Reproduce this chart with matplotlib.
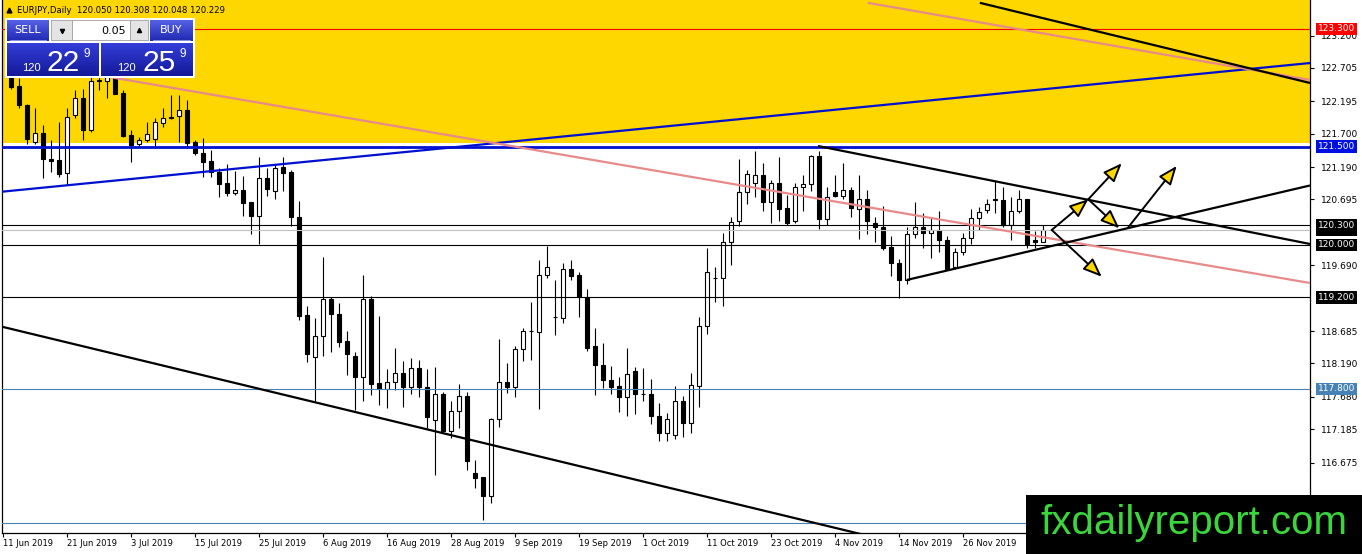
import numpy as np
import matplotlib
matplotlib.use("Agg")
import matplotlib.pyplot as plt
import matplotlib.transforms as mtransforms
from matplotlib.patches import Rectangle

# daily EURJPY bars, bar 1 = 12 Jun 2019 (bar 0 = 11 Jun sits on the left border)
opens = [122.56, 122.43, 122.14, 121.57, 121.71, 121.32, 121.30, 121.10, 121.98, 122.24,
         121.76, 122.51, 122.51, 122.55, 122.32, 121.68, 121.54, 121.61, 121.62, 121.87,
         121.96, 121.97, 122.06, 121.58, 121.41, 121.28, 121.11, 120.94, 120.79, 120.84,
         120.65, 120.45, 121.03, 120.83, 121.19, 121.12, 120.42, 118.93, 118.29, 118.61,
         119.18, 118.95, 118.53, 118.30, 117.99, 119.18, 117.89, 117.80, 117.91, 118.04,
         117.83, 118.12, 117.83, 117.33, 117.73, 117.16, 117.47, 117.69, 116.51, 116.45,
         116.17, 117.34, 117.91, 117.83, 118.41, 118.68, 118.67, 119.54, 118.90, 118.89,
         119.63, 119.54, 119.21, 118.46, 118.17, 117.93, 117.85, 117.68, 118.08, 117.72,
         117.72, 117.39, 117.13, 117.09, 117.62, 117.28, 117.85, 118.76, 119.50, 119.49,
         120.04, 120.37, 120.81, 120.95, 121.07, 120.65, 120.95, 120.56, 120.37, 120.89,
         120.93, 121.36, 120.40, 120.81, 120.75, 120.84, 120.55, 120.71, 120.33, 120.28,
         119.97, 119.72, 119.47, 120.16, 120.28, 120.19, 120.23, 120.08, 119.67, 119.90,
         120.10, 120.41, 120.54, 120.71, 120.69, 120.31, 120.52, 120.70, 120.08, 120.050]
highs = [122.62, 122.55, 122.16, 122.09, 121.83, 121.61, 121.88, 122.09, 122.37, 122.39,
         122.58, 122.60, 122.59, 122.58, 122.37, 121.76, 121.65, 121.88, 121.94, 122.09,
         122.29, 122.29, 122.22, 121.60, 121.64, 121.45, 121.17, 121.24, 121.13, 121.05,
         120.66, 121.34, 121.17, 121.22, 121.35, 121.15, 120.67, 119.07, 118.88, 119.82,
         119.21, 119.11, 118.69, 118.37, 119.54, 119.22, 118.92, 118.10, 118.42, 118.22,
         118.27, 118.24, 118.10, 118.14, 117.76, 117.61, 117.88, 117.76, 116.72, 116.46,
         117.35, 118.56, 118.20, 118.45, 118.73, 119.13, 119.77, 119.98, 119.47, 119.73,
         119.77, 119.59, 119.32, 118.73, 118.50, 118.15, 117.99, 118.42, 118.13, 118.12,
         117.95, 117.58, 117.43, 117.85, 117.69, 118.04, 118.90, 119.95, 119.67, 120.18,
         120.43, 121.31, 121.15, 121.43, 121.25, 121.00, 121.34, 120.76, 120.95, 121.07,
         121.38, 121.43, 120.89, 121.07, 121.26, 120.89, 121.07, 120.84, 120.43, 120.59,
         120.14, 119.78, 120.27, 120.65, 120.49, 120.43, 120.52, 120.13, 119.96, 120.18,
         120.55, 120.58, 120.71, 120.97, 120.89, 120.74, 120.84, 120.71, 120.22, 120.308]
lows = [122.39, 122.10, 121.55, 121.55, 121.02, 121.12, 121.04, 120.92, 121.94, 121.60,
        121.73, 122.37, 122.25, 122.30, 121.65, 121.27, 121.51, 121.58, 121.48, 121.81,
        121.93, 121.58, 121.48, 121.37, 121.04, 121.04, 120.74, 120.75, 120.76, 120.44,
        120.16, 120.01, 120.75, 120.70, 120.83, 120.29, 118.86, 118.21, 117.61, 118.30,
        118.37, 118.44, 118.01, 117.48, 117.62, 117.71, 117.56, 117.51, 117.78, 117.52,
        117.73, 117.67, 117.20, 116.49, 117.13, 117.05, 117.20, 116.56, 116.28, 115.79,
        116.05, 117.22, 117.74, 117.67, 118.22, 118.24, 117.49, 119.49, 118.63, 118.81,
        119.47, 118.90, 118.38, 117.70, 117.82, 117.72, 117.45, 117.39, 117.42, 117.61,
        117.26, 117.01, 117.01, 117.03, 117.07, 117.12, 117.52, 118.64, 119.13, 119.06,
        119.69, 120.29, 120.62, 120.74, 120.52, 120.34, 120.37, 120.30, 120.34, 120.52,
        120.83, 120.24, 120.30, 120.74, 120.71, 120.42, 120.09, 120.16, 120.04, 119.92,
        119.52, 119.19, 119.40, 120.10, 119.95, 119.80, 119.90, 119.62, 119.63, 119.85,
        120.02, 120.23, 120.49, 120.49, 120.28, 120.07, 120.49, 119.95, 119.95, 120.048]
closes = [122.42, 122.14, 121.62, 121.71, 121.32, 121.29, 121.08, 121.95, 122.24, 121.76,
          122.50, 122.51, 122.57, 122.31, 121.67, 121.53, 121.61, 121.70, 121.88, 121.94,
          121.94, 122.06, 121.56, 121.41, 121.27, 121.11, 120.93, 120.80, 120.84, 120.64,
          120.45, 121.03, 120.85, 121.17, 121.10, 120.42, 118.92, 118.33, 118.61, 119.17,
          118.95, 118.51, 118.33, 117.99, 119.17, 117.88, 117.80, 117.91, 118.04, 117.83,
          118.12, 117.83, 117.37, 117.73, 117.15, 117.47, 117.69, 116.70, 116.44, 116.17,
          117.34, 117.91, 117.83, 118.41, 118.69, 118.68, 119.54, 119.66, 118.90, 119.63,
          119.53, 119.21, 118.43, 118.16, 117.93, 117.83, 117.68, 118.03, 117.72, 117.72,
          117.38, 117.13, 117.34, 117.61, 117.28, 117.86, 118.76, 119.59, 119.49, 120.04,
          120.35, 120.81, 121.08, 121.07, 120.65, 120.94, 120.55, 120.34, 120.89, 120.93,
          121.36, 120.40, 120.74, 120.75, 120.84, 120.56, 120.71, 120.36, 120.27, 119.96,
          119.72, 119.47, 120.16, 120.27, 120.19, 120.23, 120.08, 119.63, 119.90, 120.10,
          120.41, 120.51, 120.62, 120.68, 120.31, 120.52, 120.70, 120.02, 120.05, 120.229]

date_labels = ["11 Jun 2019", "21 Jun 2019", "3 Jul 2019", "15 Jul 2019", "25 Jul 2019",
               "6 Aug 2019", "16 Aug 2019", "28 Aug 2019", "9 Sep 2019", "19 Sep 2019",
               "1 Oct 2019", "11 Oct 2019", "23 Oct 2019", "4 Nov 2019", "14 Nov 2019",
               "26 Nov 2019"]
price_ticks = [123.200, 122.705, 122.195, 121.700, 121.190, 120.695, 119.690,
               118.685, 118.190, 117.680, 117.185, 116.675]

# drawn objects: horizontal levels, trend lines (bar, price) -> (bar, price), arrows
zone_bottom = 121.558
levels = [(123.300, "#ff0000", 0.8), (121.500, "#0010d0", 2.0), (120.300, "black", 0.8),
          (120.229, "#c0c0c0", 0.8), (120.000, "black", 0.8), (119.200, "black", 0.8),
          (117.800, "#4682b4", 0.8), (115.757, "#4682b4", 0.8)]
level_labels = [(123.300, "#ff0000"), (121.500, "#0010e0"), (120.229, "black"),
                (120.300, "black"), (120.000, "black"), (119.200, "black"),
                (117.800, "#4682b4")]
trend_lines = [
    ((-0.125, 120.814), (163.375, 122.780), "#0010d0", 1.6),
    ((1.0, 122.824), (163.375, 119.419), "#e88a8a", 1.6),
    ((108.1, 123.700), (163.375, 122.521), "#e88a8a", 1.6),
    ((122.1, 123.700), (163.375, 122.475), "black", 1.6),
    ((-0.125, 118.751), (108.0, 115.560), "black", 1.6),
    ((101.875, 121.512), (163.375, 120.015), "black", 1.6),
    ((112.96, 119.465), (163.375, 120.909), "black", 1.6),
]
arrows = [
    ((131.09, 120.229), (135.66, 120.698)),
    ((135.66, 120.698), (139.84, 121.248)),
    ((135.66, 120.698), (139.54, 120.255)),
    ((131.09, 120.229), (137.34, 119.515)),
    ((140.66, 120.270), (146.71, 121.207)),
]

W, H = 1362, 554
fig = plt.figure(figsize=(W / 100, H / 100), dpi=100)
fig.patch.set_facecolor("white")
ax = fig.add_axes([2 / W, 21 / H, 1308 / W, 533 / H])
ax.set_xlim(-0.125, 163.375)
ax.set_ylim(115.599, 123.743)

ax.axhspan(zone_bottom, 124.5, color="#ffd700", lw=0, zorder=0)

bars = np.arange(1, len(opens) + 1)
o = np.array(opens)
c = np.array(closes)
ax.vlines(bars, lows, highs, color="black", lw=0.8, zorder=2)
up = c >= o
body_low = np.minimum(o, c)
body_h = np.maximum(np.abs(c - o), 0.004)
ax.bar(bars[up], body_h[up], bottom=body_low[up], width=0.5, color="white",
       edgecolor="black", linewidth=0.8, zorder=3)
ax.bar(bars[~up], body_h[~up], bottom=body_low[~up], width=0.5, color="black",
       edgecolor="black", linewidth=0.8, zorder=3)

for price, col, lw in levels:
    ax.axhline(price, color=col, lw=lw, zorder=4)

for (x0, y0), (x1, y1), col, lw in trend_lines:
    ax.plot([x0, x1], [y0, y1], color=col, lw=lw, zorder=5, solid_capstyle="butt")

for start, tip in arrows:
    ax.annotate("", xy=tip, xytext=start, zorder=6,
                arrowprops=dict(arrowstyle="-|>,head_length=0.95,head_width=0.38",
                                fc="#ffd700", ec="black", lw=1.4,
                                shrinkA=0, shrinkB=0, mutation_scale=12))

# axes frame and ticks
for side in ["left", "right", "bottom"]:
    ax.spines[side].set_linewidth(0.9)
ax.spines["top"].set_visible(False)
ax.yaxis.tick_right()
ax.set_yticks(price_ticks)
ax.set_yticklabels([f"{v:.3f}" for v in price_ticks])
ax.tick_params(axis="y", length=3, pad=5, labelsize=6.5, width=0.8)
ax.set_xticks(range(0, 8 * len(date_labels), 8))
ax.set_xticklabels(date_labels)
for lab in ax.get_xticklabels():
    lab.set_horizontalalignment("left")
ax.tick_params(axis="x", length=3, pad=1.5, labelsize=6.0, width=0.8)

trans = mtransforms.blended_transform_factory(ax.transAxes, ax.transData)
for price, col in level_labels:
    ax.text(1 + 8 / 1308, price, f"{price:.3f}", transform=trans, fontsize=6.5,
            color="white", va="center", ha="left", clip_on=False, zorder=7,
            bbox=dict(boxstyle="square,pad=0.2", fc=col, ec="none"))

# overlay in pixel coordinates: title, trade panel, logo
ov = fig.add_axes([0, 0, 1, 1], zorder=10)
ov.axis("off")


def grad_box(x0, y0, x1, y1, top, bottom):
    g = np.linspace(0, 1, 32)[:, None, None]
    img = (1 - g) * np.array(top)[None, None, :] + g * np.array(bottom)[None, None, :]
    ov.imshow(img, extent=(x0, x1, y1, y0), aspect="auto", interpolation="bilinear", zorder=2)


ov.plot([9], [10], marker="^", ms=3.5, color="black", zorder=3)
ov.text(17, 10.5, "EURJPY,Daily  120.050 120.308 120.048 120.229", fontsize=6.1,
        va="center", ha="left", zorder=3)

ov.add_patch(Rectangle((5, 18), 190, 60, fc="white", ec="none", zorder=1))
btn_top, btn_bot = (0.33, 0.38, 0.90), (0.13, 0.16, 0.70)
box_top, box_bot = (0.20, 0.24, 0.85), (0.08, 0.10, 0.60)
grad_box(7, 20, 49, 41, btn_top, btn_bot)
grad_box(150, 20, 193, 41, btn_top, btn_bot)
grad_box(7, 43, 99, 76, box_top, box_bot)
grad_box(101, 43, 193, 76, box_top, box_bot)
ov.plot([10, 46], [40, 40], color="#9aa4e8", lw=0.6, zorder=3)
ov.plot([153, 190], [40, 40], color="#9aa4e8", lw=0.6, zorder=3)
ov.text(28, 30, "SELL", color="white", fontsize=8, ha="center", va="center", zorder=3)
ov.text(171.5, 30, "BUY", color="white", fontsize=8, ha="center", va="center", zorder=3)
ov.add_patch(Rectangle((51, 20), 21, 20, fc="#e4e4e4", ec="#a0a0a0", lw=0.6, zorder=3))
ov.add_patch(Rectangle((130, 20), 18, 20, fc="#e4e4e4", ec="#a0a0a0", lw=0.6, zorder=3))
ov.add_patch(Rectangle((72, 20), 58, 20, fc="white", ec="#a0a0a0", lw=0.6, zorder=3))
ov.plot([61.5], [30.5], marker="v", ms=3, color="black", zorder=4)
ov.plot([139], [29.5], marker="^", ms=3, color="black", zorder=4)
ov.text(126, 30.5, "0.05", fontsize=8, ha="right", va="center", zorder=4)
for x_small, x_big, x_sup, big in [(22, 47, 84, "22"), (117, 142, 179, "25")]:
    ov.text(x_small, 71, "120", color="white", fontsize=8, family="Liberation Sans",
            ha="left", va="baseline", zorder=3)
    ov.text(x_big, 71, big, color="white", fontsize=21.5, family="Liberation Sans",
            ha="left", va="baseline", zorder=3)
    ov.text(x_sup, 57, "9", color="white", fontsize=8.5, family="Liberation Sans",
            ha="left", va="baseline", zorder=3)

ov.add_patch(Rectangle((1026, 495), 336, 60, fc="black", ec="none", zorder=5))
ov.text(1194, 523, "fxdailyreport.com", color="#3bd63b", fontsize=29,
        family="Liberation Sans", ha="center", va="center", zorder=6)

ov.set_xlim(0, W)
ov.set_ylim(H, 0)

fig.savefig("out.png", dpi=100)
